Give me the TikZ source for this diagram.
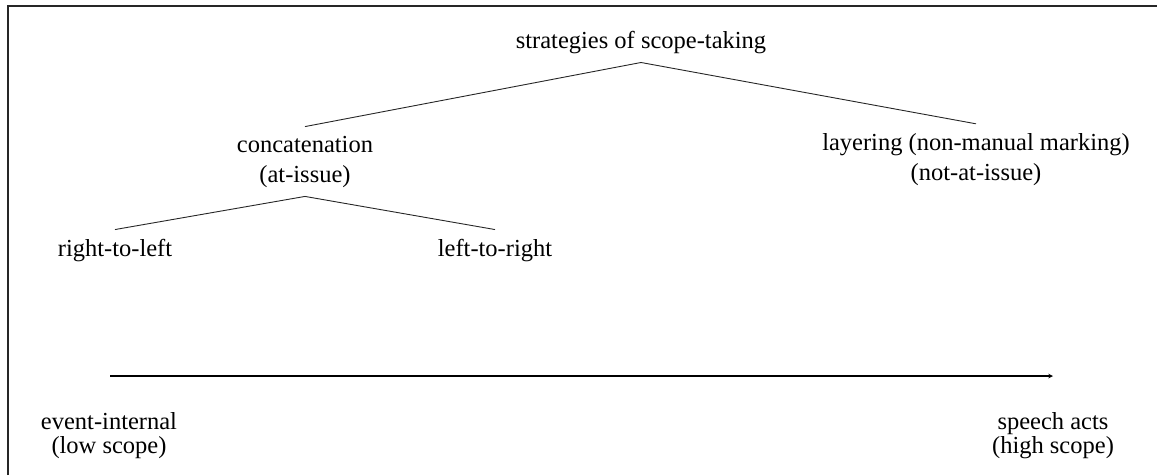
\documentclass[tikz,border=0pt]{standalone}
\usepackage{fontspec}
\setmainfont{Liberation Serif}
\usetikzlibrary{positioning,arrows}

\begin{document}
\begin{tikzpicture}[x=1pt,y=-1pt]
   \tikzstyle{arrow} = [->,>=stealth,line width=1.1pt]
   \tikzset{term/.style = {align=center, anchor=base, inner sep=9pt, font=\fontsize{24.5}{30}\selectfont}, }
   \tikzset{pole/.style = {align=center, anchor=base, inner sep=9pt, font=\fontsize{24.5}{24}\selectfont}, }
   \tikzset{branch/.style = {draw, line width=0.9pt, color=black!85} }
   \tikzset{frame/.style = {draw, line width=1.5pt, color=black!85} }

   \useasboundingbox (0,0) rectangle (1157,475);
   \path[frame] (8,475) -- (8,6) -- (1157,6);

   \node[term] (strat) at (641,48) {strategies of scope-taking};
   \node[term] (concat) at (305,182) {concatenation\\(at-issue)};
   \node[term] (layer) at (976,180) {layering (non-manual marking)\\(not-at-issue)};
   \node[term] (rtl) at (115,256) {right-to-left};
   \node[term] (ltr) at (495,256) {left-to-right};

   % tree
   \path[branch]
   (strat.south) -- (concat.north)
   (strat.south) -- (layer.north)
   (concat.south) -- (rtl.north)
   (concat.south) -- (ltr.north);

   % scope axis
   \coordinate (axisL) at (110,376);
   \coordinate (axisR) at (1053,376);
   \draw[arrow] (axisL) -- (axisR);
   \node[pole] (low) at (109,453) {event-internal\\(low scope)};
   \node[pole] (high) at (1053,453) {speech acts\\(high scope)};
\end{tikzpicture}
\end{document}
